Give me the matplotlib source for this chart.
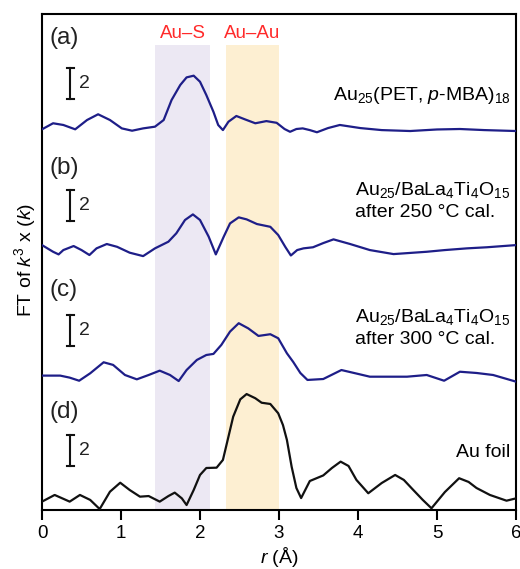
import numpy as np
import matplotlib
matplotlib.use("Agg")
import matplotlib.pyplot as plt

plt.rcParams['font.family'] = ['Liberation Sans', 'DejaVu Sans']
plt.rcParams['mathtext.fontset'] = 'custom'
plt.rcParams['mathtext.rm'] = 'Liberation Sans'
plt.rcParams['mathtext.it'] = 'Liberation Sans:italic'
plt.rcParams['mathtext.bf'] = 'Liberation Sans:bold'

# (a) Au25(PET, p-MBA)18
r_a = [0, 0.14, 0.27, 0.42, 0.57, 0.71, 0.86, 1.01, 1.14, 1.28, 1.43, 1.54, 1.64, 1.75, 1.83,
       1.92, 2.0, 2.08, 2.17, 2.23, 2.29, 2.36, 2.46, 2.57, 2.7, 2.84, 2.97, 3.07, 3.14, 3.22,
       3.3, 3.39, 3.48, 3.62, 3.77, 4.03, 4.3, 4.66, 5.0, 5.29, 5.6, 6.0]
ft_a = [0.24, 0.63, 0.52, 0.24, 0.84, 1.21, 0.84, 0.30, 0.15, 0.30, 0.41, 0.84, 2.13, 3.10, 3.59,
        3.70, 3.31, 2.45, 1.37, 0.52, 0.19, 0.73, 1.10, 0.88, 0.63, 0.77, 0.66, 0.26, 0.08, 0.26,
        0.30, 0.19, 0.05, 0.32, 0.52, 0.32, 0.19, 0.13, 0.23, 0.26, 0.19, 0.13]

# (b) Au25/BaLa4Ti4O15 after 250 C
r_b = [0, 0.14, 0.21, 0.27, 0.4, 0.5, 0.6, 0.69, 0.82, 0.95, 1.11, 1.28, 1.43, 1.6, 1.7,
       1.81, 1.91, 2.0, 2.11, 2.2, 2.3, 2.38, 2.49, 2.59, 2.72, 2.89, 2.99, 3.08, 3.15, 3.23,
       3.31, 3.43, 3.56, 3.69, 3.9, 4.15, 4.45, 4.87, 5.1, 5.38, 5.63, 6.0]
ft_b = [0.77, 0.34, 0.17, 0.45, 0.71, 0.45, 0.13, 0.56, 0.84, 0.66, 0.28, 0.06, 0.56, 0.99, 1.53,
        2.39, 2.75, 2.39, 1.31, 0.17, 1.31, 2.17, 2.56, 2.43, 2.13, 1.95, 1.42, 0.65, 0.10, 0.45,
        0.56, 0.63, 0.90, 1.14, 0.84, 0.45, 0.19, 0.34, 0.45, 0.56, 0.63, 0.77]

# (c) Au25/BaLa4Ti4O15 after 300 C
r_c = [0, 0.23, 0.35, 0.47, 0.61, 0.78, 0.9, 1.05, 1.2, 1.35, 1.49, 1.62, 1.73, 1.83, 1.96,
       2.08, 2.17, 2.27, 2.38, 2.49, 2.61, 2.74, 2.89, 2.99, 3.1, 3.18, 3.27, 3.36, 3.56, 3.79,
       4.0, 4.15, 4.62, 4.87, 5.09, 5.29, 5.5, 5.71, 6.0]
ft_c = [0.41, 0.41, 0.28, 0.08, 0.56, 1.27, 1.10, 0.45, 0.17, 0.45, 0.73, 0.45, 0.06, 0.77, 1.42,
        1.74, 1.81, 2.39, 3.25, 3.79, 3.46, 2.97, 3.08, 2.82, 1.85, 1.29, 0.58, 0.13, 0.19, 0.77,
        0.52, 0.34, 0.34, 0.45, 0.08, 0.66, 0.58, 0.45, 0.02]

# (d) Au foil
r_d = [0, 0.16, 0.35, 0.48, 0.61, 0.73, 0.86, 0.99, 1.11, 1.24, 1.35, 1.49, 1.6, 1.68, 1.77,
       1.83, 1.92, 2.0, 2.08, 2.21, 2.29, 2.36, 2.42, 2.51, 2.59, 2.7, 2.78, 2.89, 2.99, 3.05,
       3.1, 3.16, 3.22, 3.28, 3.39, 3.56, 3.67, 3.78, 3.88, 3.98, 4.13, 4.3, 4.47, 4.58, 4.7,
       4.82, 4.93, 5.1, 5.28, 5.4, 5.5, 5.67, 5.88, 6.0]
ft_d = [0.54, 0.97, 0.54, 0.97, 0.65, 0.06, 1.18, 1.76, 1.29, 0.86, 0.90, 0.54, 0.90, 1.12, 0.75,
        0.32, 1.29, 2.26, 2.71, 2.73, 3.23, 4.73, 6.02, 7.14, 7.48, 7.21, 6.92, 6.84, 6.24, 5.48,
        4.52, 2.79, 1.42, 0.77, 1.87, 2.23, 2.71, 3.12, 2.84, 1.94, 1.08, 1.74, 2.26, 1.94, 1.29,
        0.65, 0.11, 1.16, 2.05, 1.81, 1.42, 0.97, 0.60, 0.75]

panels = ['(a)', '(b)', '(c)', '(d)']
offsets = [24.32, 16.32, 8.26, 0.0]
colors = ['#1e1e88', '#1e1e88', '#1e1e88', '#111111']
bar_bottom = [26.5, 18.65, 10.6, 2.84]
scale_len = 2
regions = [(1.43, 2.13, '#ece8f3', 'Au–S'), (2.33, 3.0, '#fdefd2', 'Au–Au')]

fig = plt.figure(figsize=(5.2, 5.69), dpi=100)
ax = fig.add_axes([0.0808, 0.1037, 0.9115, 0.8717])

for lo, hi, c, lab in regions:
    ax.axvspan(lo, hi, ymin=0, ymax=0.9375, color=c, lw=0, zorder=0)
    ax.text((lo + hi) / 2, 30.77, lab, color='#ff2a2a', fontsize=13.5, ha='center', va='center')

curves = [(r_a, ft_a), (r_b, ft_b), (r_c, ft_c), (r_d, ft_d)]
for (r, ft), off, c in zip(curves, offsets, colors):
    ax.plot(r, np.array(ft) + off, color=c, lw=1.6, solid_joinstyle='round',
            solid_capstyle='round', zorder=3)

label_y = [30.45, 22.06, 14.19, 6.34]
for p, y in zip(panels, label_y):
    ax.text(0.1, y, p, fontsize=17.5, ha='left', va='center', color='#222222')

for b in bar_bottom:
    ax.plot([0.354, 0.354], [b, b + scale_len], color='#111111', lw=1.5)
    ax.plot([0.31, 0.40], [b, b], color='#111111', lw=1.5)
    ax.plot([0.31, 0.40], [b + scale_len, b + scale_len], color='#111111', lw=1.5)
    ax.text(0.47, b + scale_len / 2, '2', fontsize=14, ha='left', va='center', color='#222222')

ax.text(5.93, 26.77, r'Au$_{25}$(PET, $\it{p}$-MBA)$_{18}$', fontsize=14, ha='right', va='center')
ax.text(3.96, 20.65, r'Au$_{25}$/BaLa$_{4}$Ti$_{4}$O$_{15}$', fontsize=14, ha='left', va='center')
ax.text(3.96, 19.2, 'after 250 °C cal.', fontsize=14, ha='left', va='center')
ax.text(3.96, 12.47, r'Au$_{25}$/BaLa$_{4}$Ti$_{4}$O$_{15}$', fontsize=14, ha='left', va='center')
ax.text(3.96, 10.97, 'after 300 °C cal.', fontsize=14, ha='left', va='center')
ax.text(5.93, 3.68, 'Au foil', fontsize=14, ha='right', va='center')

ax.set_xlim(0, 6)
ax.set_ylim(0, 32)
ax.set_xticks([0, 1, 2, 3, 4, 5, 6])
ax.set_yticks([])
ax.tick_params(axis='x', direction='out', length=7, width=1.5, labelsize=13.5, pad=4)
for s in ax.spines.values():
    s.set_linewidth(1.5)
ax.set_xlabel(r'$r$ (Å)', fontsize=14, labelpad=2)
ax.text(-0.036, 0.504, r'FT of $k^3$ x ($k$)', transform=ax.transAxes, rotation=90,
        fontsize=14, ha='center', va='center')

fig.savefig('out.png', dpi=100)
